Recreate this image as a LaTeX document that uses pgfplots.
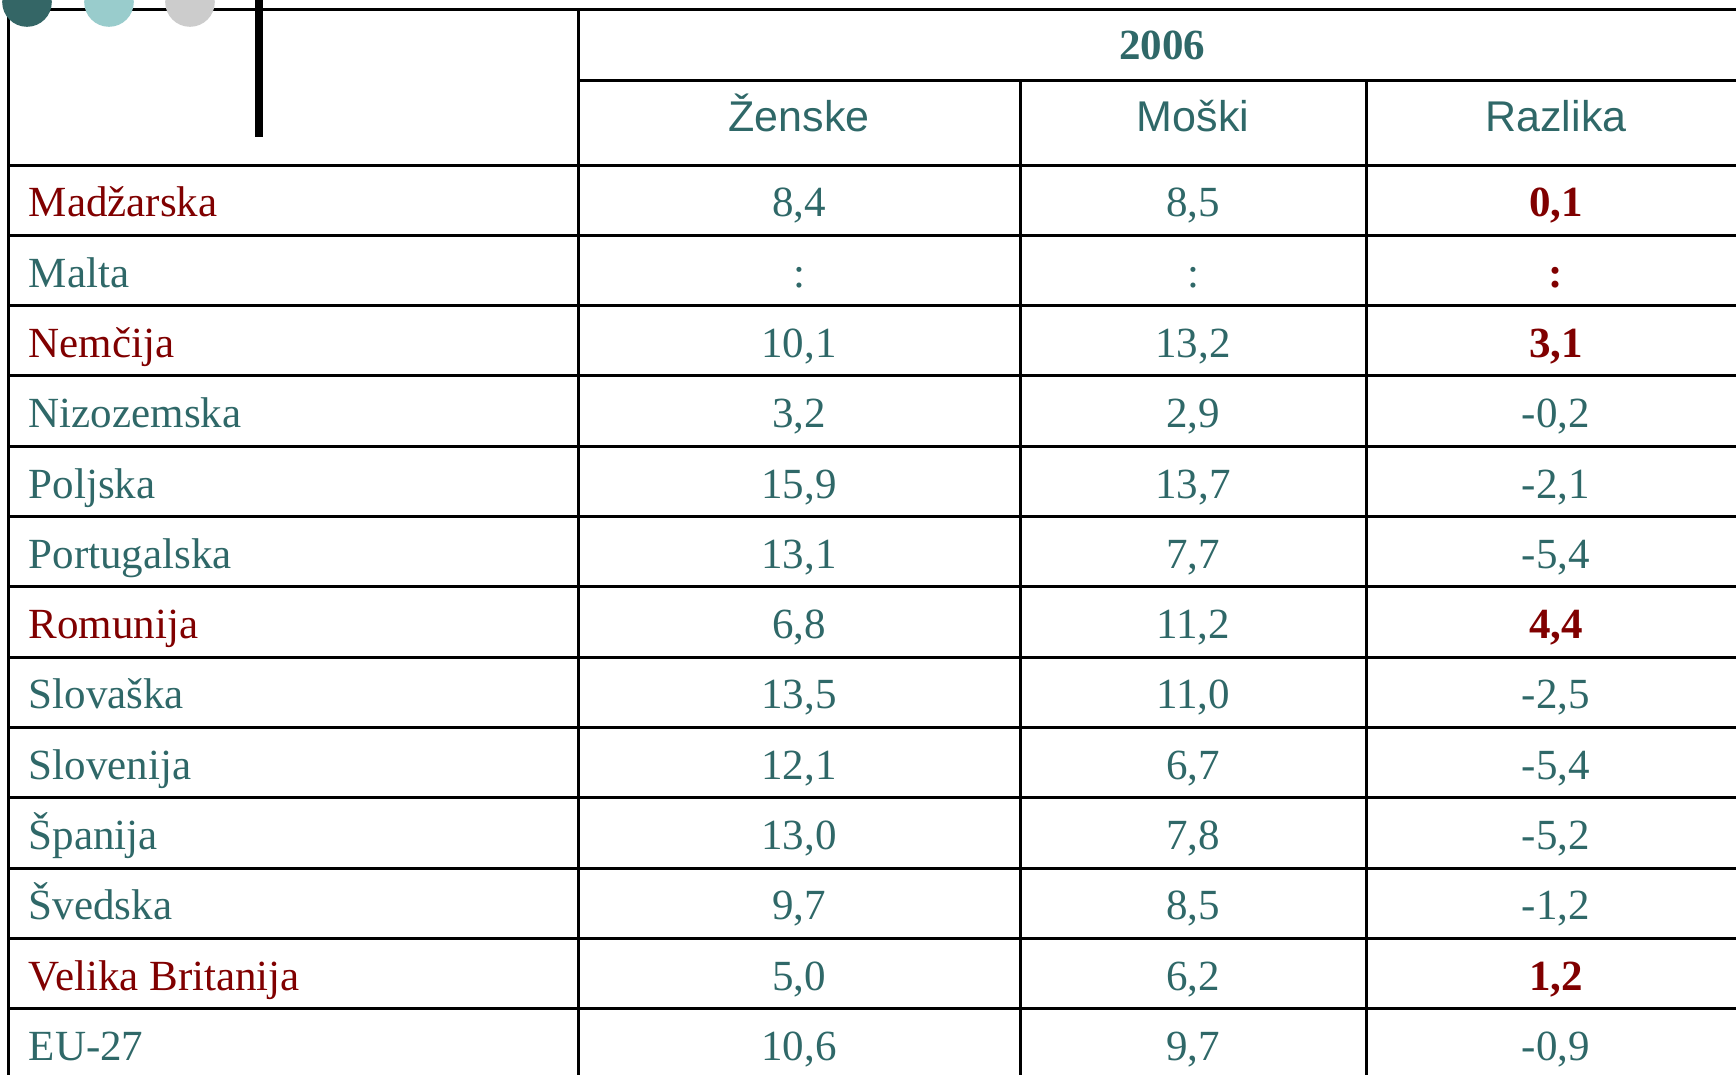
\documentclass[border=0pt]{standalone}
\usepackage{pgfplots}
\pgfplotsset{compat=1.18}
\usepackage{pgfplotstable}
\usepackage{fontspec}
\setmainfont{Liberation Serif}
\newfontfamily\hdrfont{Liberation Sans}
\definecolor{tealtxt}{RGB}{47,104,104}
\definecolor{redtxt}{RGB}{128,0,0}
\definecolor{dotA}{RGB}{52,102,102}
\definecolor{dotB}{RGB}{153,204,204}
\definecolor{dotC}{RGB}{204,204,204}
\newcommand\fs{\fontsize{10.75}{12.9}\selectfont}

% row index ; country
\pgfplotstableread[col sep=semicolon]{
r;name
2;Malta
4;Nizozemska
5;Poljska
6;Portugalska
8;Slovaška
9;Slovenija
10;Španija
11;Švedska
13;EU-27
}\namesteal
\pgfplotstableread[col sep=semicolon]{
r;name
1;Madžarska
3;Nemčija
7;Romunija
12;Velika Britanija
}\namesred
% row index ; women ; men
\pgfplotstableread{
r z m
1 8.4 8.5
3 10.1 13.2
4 3.2 2.9
5 15.9 13.7
6 13.1 7.7
7 6.8 11.2
8 13.5 11.0
9 12.1 6.7
10 13.0 7.8
11 9.7 8.5
12 5.0 6.2
13 10.6 9.7
}\vals
% difference (highlighted / plain)
\pgfplotstableread{
r d
1 0.1
3 3.1
7 4.4
12 1.2
}\difred
\pgfplotstableread{
r d
4 -0.2
5 -2.1
6 -5.4
8 -2.5
9 -5.4
10 -5.2
11 -1.2
13 -0.9
}\difteal
% not available
\pgfplotstableread{
r s
2 :
}\na

\pgfkeys{/pgf/number format/.cd, fixed, fixed zerofill, precision=1, use comma, assume math mode=true}

\pgfplotsset{
  cell/.style={only marks, mark=*, mark size=0pt, mark options={draw=none, fill=none}, color=tealtxt, nodes near coords,
    every node near coord/.append style={anchor=base, inner sep=0pt, font=\fs, text=tealtxt}},
  redcell/.style={every node near coord/.append style={font=\fs\bfseries, text=redtxt}},
}

\begin{document}
\begin{tikzpicture}
\begin{axis}[
  width=434pt, height=268.75pt, scale only axis,
  xmin=0, xmax=1736, ymin=0, ymax=1075, y dir=reverse,
  hide axis, clip=true,
]
% decorative dots
\addplot[only marks, mark=*, mark size=6pt, color=dotA] coordinates {(27,2)};
\addplot[only marks, mark=*, mark size=6pt, color=dotB] coordinates {(109,2)};
\addplot[only marks, mark=*, mark size=6pt, color=dotC] coordinates {(190,2)};

% table rules
\draw[line width=0.75pt] (8.9,9) -- (1736,9);
\draw[line width=0.75pt] (578,80) -- (1736,80);
\pgfplotsinvokeforeach{0,...,12}{\draw[line width=0.75pt] (8.9,{165+70.3*#1}) -- (1736,{165+70.3*#1});}
\draw[line width=0.75pt] (8.9,9) -- (8.9,1075);
\draw[line width=0.75pt] (578,9) -- (578,1075);
\draw[line width=0.75pt] (1020,80) -- (1020,1075);
\draw[line width=0.75pt] (1366,80) -- (1366,1075);
\draw[line width=2pt] (259,-5) -- (259,137);

% headers
\node[anchor=base, inner sep=0pt, font=\fs\bfseries, text=tealtxt] at (1162,59) {2006};
\node[anchor=base, inner sep=0pt, font=\hdrfont\fs, text=tealtxt] at (799,131) {Ženske};
\node[anchor=base, inner sep=0pt, font=\hdrfont\fs, text=tealtxt] at (1193,131) {Moški};
\node[anchor=base, inner sep=0pt, font=\hdrfont\fs, text=tealtxt] at (1556,131) {Razlika};

% country names
\addplot[cell, point meta=explicit symbolic, nodes near coords={\pgfplotspointmeta},
  every node near coord/.append style={anchor=base west}]
  table[x expr=28, y expr=\thisrow{r}*70.3+146.5, meta=name]{\namesteal};
\addplot[cell, point meta=explicit symbolic, nodes near coords={\pgfplotspointmeta},
  every node near coord/.append style={anchor=base west, text=redtxt}]
  table[x expr=28, y expr=\thisrow{r}*70.3+146.5, meta=name]{\namesred};

% Zenske
\addplot[cell, point meta=explicit]
  table[x expr=799, y expr=\thisrow{r}*70.3+146.5, meta=z]{\vals};
% Moski
\addplot[cell, point meta=explicit]
  table[x expr=1193, y expr=\thisrow{r}*70.3+146.5, meta=m]{\vals};
% Razlika
\addplot[cell, point meta=explicit]
  table[x expr=1556, y expr=\thisrow{r}*70.3+146.5, meta=d]{\difteal};
\addplot[cell, redcell, point meta=explicit]
  table[x expr=1556, y expr=\thisrow{r}*70.3+146.5, meta=d]{\difred};

% not available
\addplot[cell, point meta=explicit symbolic, nodes near coords={\pgfplotspointmeta}]
  table[x expr=799, y expr=\thisrow{r}*70.3+146.5, meta=s]{\na};
\addplot[cell, point meta=explicit symbolic, nodes near coords={\pgfplotspointmeta}]
  table[x expr=1193, y expr=\thisrow{r}*70.3+146.5, meta=s]{\na};
\addplot[cell, redcell, point meta=explicit symbolic, nodes near coords={\pgfplotspointmeta}]
  table[x expr=1556, y expr=\thisrow{r}*70.3+146.5, meta=s]{\na};
\end{axis}
\pgfresetboundingbox
\path (current axis.south west) rectangle (current axis.north east);
\end{tikzpicture}
\end{document}
